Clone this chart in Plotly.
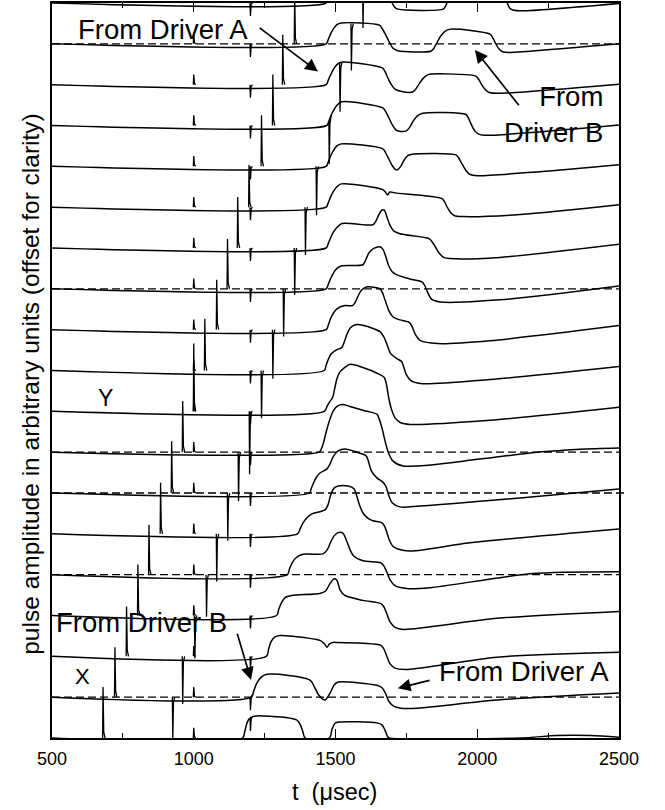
import numpy as np
import plotly.graph_objects as go

T_MIN, T_MAX = 500, 2500
STEP = 10  # vertical offset between consecutive records

# Pulse envelopes, bottom record (00) to top record (18): time (usec) and amplitude
tr00_t = [500, 1172, 1180, 1188, 1197, 1210, 1244, 1364, 1376, 1385, 1393, 1478, 1488, 1498, 1512, 1646, 1664, 1674, 1684, 1690, 2150, 2280, 2400, 2500]
tr00_a = [0, 0, 1.6, 3.7, 4.8, 5.3, 5.4, 4.4, 3.2, 1.5, 0, 0, 2.2, 3.6, 3.9, 3.7, 3.2, 2.0, 0.3, 0, 0, 0.6, 0.6, 0.2]

tr01_t = [500, 1203, 1212, 1222, 1236, 1258, 1410, 1425, 1440, 1463, 1481, 1495, 1510, 1646, 1664, 1676, 1688, 1705, 1730, 1790, 2070, 2500]
tr01_a = [0, 0, 1.6, 3.4, 4.8, 5.6, 4.2, 2.6, 0.6, -0.7, 1.0, 3.0, 3.7, 2.9, 2.3, 1.0, -1.0, -2.2, -2.7, -2.7, -0.7, 1.0]

tr02_t = [500, 1256, 1264, 1272, 1285, 1304, 1350, 1445, 1462, 1470, 1478, 1490, 1505, 1597, 1660, 1670, 1680, 1692, 1710, 1755, 2070, 2500]
tr02_a = [0, 0, 1.8, 3.5, 4.7, 5.1, 4.9, 3.9, 3.0, 2.2, 3.0, 3.4, 3.4, 3.2, 2.7, 1.9, 0.2, -1.8, -2.9, -3.2, -0.2, 1.0]

tr03_t = [500, 1292, 1300, 1310, 1322, 1346, 1445, 1465, 1478, 1490, 1498, 1506, 1516, 1533, 1597, 1660, 1670, 1680, 1692, 1710, 1740, 2070, 2500]
tr03_a = [0, 0, 1.6, 3.2, 4.4, 4.9, 5.4, 6.0, 7.5, 8.7, 9.0, 8.5, 6.3, 4.9, 3.7, 2.9, 2.2, 0.6, -1.5, -2.9, -3.4, -0.7, 1.0]

tr04_t = [500, 1330, 1338, 1348, 1362, 1385, 1456, 1470, 1482, 1495, 1509, 1526, 1538, 1552, 1565, 1597, 1660, 1670, 1680, 1692, 1710, 1752, 1833, 2186, 2500]
tr04_a = [0, 0, 1.5, 3.0, 4.2, 5.0, 5.1, 6.0, 7.8, 9.5, 10.3, 10.2, 8.5, 6.0, 4.5, 3.4, 2.9, 2.2, 0.8, -1.2, -2.7, -3.4, -3.2, 0.2, 0.7]

tr05_t = [500, 1366, 1375, 1385, 1400, 1417, 1445, 1465, 1474, 1483, 1495, 1510, 1544, 1566, 1574, 1584, 1597, 1615, 1632, 1664, 1672, 1680, 1690, 1705, 1760, 1974, 2500]
tr05_a = [0, 0, 1.2, 2.6, 4.0, 4.9, 5.4, 6.0, 7.2, 9.5, 11.2, 11.7, 11.7, 11.0, 9.5, 7.2, 5.1, 3.8, 3.2, 2.7, 2.0, 0.6, -1.5, -3.2, -4.2, -2.2, 1.2]

tr06_t = [500, 1408, 1414, 1422, 1432, 1445, 1470, 1480, 1492, 1509, 1533, 1576, 1608, 1616, 1626, 1646, 1668, 1678, 1688, 1700, 1727, 1798, 2151, 2500]
tr06_a = [0, 0, 1.0, 2.4, 3.8, 4.9, 5.9, 7.0, 8.9, 10.3, 10.8, 10.0, 9.1, 7.8, 5.5, 3.7, 2.6, 1.6, -0.6, -2.4, -3.4, -3.2, -1.2, 1.0]

tr07_t = [500, 1442, 1450, 1458, 1468, 1480, 1492, 1505, 1523, 1551, 1611, 1646, 1655, 1665, 1676, 1686, 1703, 1738, 2010, 2186, 2362, 2500]
tr07_a = [0, 0, 0.8, 2.4, 5.2, 8.0, 10.1, 11.2, 11.7, 11.2, 10.0, 9.3, 8.0, 5.6, 2.4, 0.0, -2.2, -3.4, -1.7, -0.2, 0.7, 1.0]

tr08_t = [500, 1460, 1470, 1480, 1490, 1497, 1505, 1515, 1530, 1551, 1586, 1657, 1672, 1680, 1688, 1697, 1710, 1730, 1763, 2045, 2500]
tr08_a = [0, 0, 1.2, 2.4, 3.4, 5.5, 8.0, 9.6, 10.6, 11.5, 11.0, 9.0, 8.3, 6.5, 3.2, 0.6, -1.6, -2.8, -3.2, -2.2, 1.0]

tr09_t = [500, 1460, 1467, 1475, 1485, 1505, 1522, 1530, 1540, 1552, 1570, 1600, 1657, 1670, 1682, 1694, 1717, 1733, 1741, 1750, 1765, 1800, 2045, 2500]
tr09_a = [0, 0, 1.3, 2.8, 4.1, 5.1, 5.6, 6.8, 8.8, 10.4, 11.2, 11.0, 9.5, 8.3, 6.3, 4.2, 2.9, 2.2, 0.8, -1.0, -2.4, -3.2, -2.2, 1.0]

tr10_t = [500, 1467, 1474, 1482, 1492, 1505, 1533, 1560, 1568, 1578, 1592, 1612, 1657, 1666, 1676, 1690, 1703, 1727, 1760, 1770, 1782, 1800, 1860, 2045, 2500]
tr10_a = [0, 0, 1.0, 2.6, 4.0, 5.1, 5.9, 5.9, 6.5, 8.0, 9.7, 10.5, 10.0, 9.0, 7.0, 4.4, 3.1, 2.4, 1.8, 0.8, -1.2, -2.7, -3.4, -2.7, 1.0]

tr11_t = [500, 1467, 1474, 1482, 1492, 1505, 1520, 1597, 1606, 1618, 1635, 1657, 1668, 1677, 1688, 1700, 1717, 1763, 1805, 1815, 1826, 1840, 1868, 2080, 2500]
tr11_a = [0, 0, 1.0, 2.4, 3.8, 5.0, 5.6, 5.9, 7.0, 8.8, 9.9, 10.3, 9.6, 8.0, 5.6, 4.2, 3.4, 2.4, 1.7, 0.8, -1.0, -2.6, -3.2, -2.7, 0.7]

tr12_t = [500, 1467, 1474, 1482, 1492, 1505, 1523, 1632, 1641, 1652, 1664, 1672, 1682, 1692, 1705, 1727, 1830, 1840, 1852, 1866, 1882, 1904, 2080, 2500]
tr12_a = [0, 0, 1.0, 2.4, 3.8, 5.0, 6.0, 5.7, 6.4, 8.0, 9.3, 9.3, 7.5, 5.6, 4.2, 3.5, 2.3, 1.6, 0.3, -1.3, -2.3, -2.6, -2.3, 0.9]

tr13_t = [500, 1467, 1474, 1482, 1492, 1505, 1520, 1667, 1677, 1684, 1692, 1710, 1876, 1884, 1894, 1906, 1920, 1950, 2151, 2500]
tr13_a = [0, 0, 1.0, 2.4, 3.8, 5.0, 5.7, 4.3, 3.6, 3.0, 3.7, 3.5, 2.1, 1.4, 0.0, -1.3, -2.1, -2.3, -1.8, 0.6]

tr14_t = [500, 1467, 1474, 1482, 1492, 1505, 1520, 1667, 1676, 1688, 1700, 1712, 1720, 1730, 1742, 1755, 1775, 1925, 1934, 1946, 1960, 1975, 2000, 2221, 2500]
tr14_a = [0, 0, 1.0, 2.4, 3.8, 5.0, 5.5, 4.3, 3.4, 1.8, 0.2, -0.8, -0.8, 0.0, 1.5, 2.6, 3.0, 2.8, 2.1, 0.6, -1.0, -2.0, -2.3, -1.3, 0.4]

tr15_t = [500, 1469, 1476, 1484, 1494, 1506, 1522, 1667, 1676, 1688, 1700, 1712, 1725, 1750, 1762, 1775, 1790, 1808, 1960, 1968, 1978, 1990, 2005, 2025, 2500]
tr15_a = [0, 0, 1.0, 2.4, 3.8, 5.0, 5.8, 4.3, 3.5, 1.9, 0.2, -1.0, -1.4, -1.3, -0.4, 1.2, 2.4, 3.0, 2.7, 1.9, 0.4, -1.2, -2.1, -2.4, 0.1]

tr16_t = [500, 1467, 1474, 1482, 1492, 1505, 1520, 1665, 1674, 1685, 1697, 1710, 1730, 1772, 1782, 1795, 1810, 1825, 1840, 1995, 2004, 2015, 2028, 2042, 2080, 2500]
tr16_a = [0, 0, 1.0, 2.3, 3.7, 4.9, 5.5, 4.1, 3.3, 1.6, 0.0, -1.1, -1.6, -1.8, -1.2, 0.2, 1.6, 2.4, 2.6, 2.1, 1.4, 0.1, -1.2, -1.9, -2.1, 0.1]

tr17_t = [500, 1467, 1474, 1482, 1492, 1505, 1520, 1655, 1665, 1677, 1690, 1702, 1720, 1836, 1846, 1858, 1870, 1885, 1905, 2045, 2054, 2064, 2076, 2092, 2186, 2500]
tr17_a = [0, 0, 1.0, 2.3, 3.6, 4.7, 5.1, 4.6, 3.7, 2.2, 0.4, -1.0, -1.7, -1.8, -1.2, 0.3, 1.8, 3.0, 3.6, 2.4, 1.6, 0.2, -1.2, -2.0, -1.8, 0.0]

tr18_t = [500, 1467, 1474, 1482, 1492, 1505, 1520, 1680, 1688, 1695, 1700, 1708, 1720, 1880, 1887, 1893, 1900, 1915, 2090, 2100, 2106, 2114, 2125, 2160, 2500]
tr18_a = [0, 0, 1.0, 2.3, 3.6, 4.7, 5.1, 4.6, 2.6, 1.0, 0.0, -1.0, -1.5, -1.5, -0.9, 0.0, 1.5, 3.2, 2.4, 1.0, 0.0, -1.2, -1.7, -1.9, -0.1]

# Large transient spikes in each record, bottom to top (time usec, height)
up_spike_t = [680, 722, 763, 803, 842, 883, 922, 961, 1000, 1039, 1081, 1119, 1155, 1195, 1239, 1279, 1314, 1356, 1395]
up_spike_a = [12.5, 12.2, 12.2, 12.5, 12.2, 12.5, 12.7, 12.5, 16.6, 12.7, 12.2, 12.2, 12.5, 10.3, 12.5, 12.5, 12.2, 12.2, 12.2]
down_spike_t = [885, 926, 961, 1004, 1045, 1081, 1120, 1158, 1197, 1239, 1279, 1317, 1356, 1394, 1433, 1478, 1516, 1556, 1597]
down_spike_a = [11.0, 10.3, 11.7, 10.5, 10.3, 11.7, 11.7, 12.0, 15.4, 11.7, 12.0, 11.7, 11.5, 11.7, 12.0, 10.8, 12.0, 11.5, 11.0]

# Marker spikes common to every record (time usec, signed height)
ref_spike_t = [1000, 1200]
ref_spike_a = [2.5, -3.2]

# Records that carry a dashed zero line
dashed_records = [1, 4, 6, 7, 11, 17]

tick_vals = [500, 1000, 1500, 2000, 2500]
tick_text = ["500", "1000", "1500", "2000", "2500"]
minor_tick_vals = [750, 1250, 1750, 2250]

env_t = [tr00_t, tr01_t, tr02_t, tr03_t, tr04_t, tr05_t, tr06_t, tr07_t, tr08_t, tr09_t,
         tr10_t, tr11_t, tr12_t, tr13_t, tr14_t, tr15_t, tr16_t, tr17_t, tr18_t]
env_a = [tr00_a, tr01_a, tr02_a, tr03_a, tr04_a, tr05_a, tr06_a, tr07_a, tr08_a, tr09_a,
         tr10_a, tr11_a, tr12_a, tr13_a, tr14_a, tr15_a, tr16_a, tr17_a, tr18_a]

FONT = "Liberation Sans, Arial, Helvetica, sans-serif"
INK = "#000000"
LINE_W = 1.5

fig = go.Figure()

for k, (tt, aa) in enumerate(zip(env_t, env_a)):
    off = k * STEP
    fig.add_trace(go.Scatter(
        x=tt, y=[a + off for a in aa], mode="lines",
        line=dict(color=INK, width=LINE_W, shape="spline", smoothing=0.8),
        hoverinfo="skip", showlegend=False))

    # narrow spikes riding on the envelope
    def base(t):
        return float(np.interp(t, tt, aa)) + off

    events = [(up_spike_t[k], up_spike_a[k]), (down_spike_t[k], -down_spike_a[k])]
    events += list(zip(ref_spike_t, ref_spike_a))
    xs, ys = [], []
    for ts, amp in events:
        xs += [ts - 1.5, ts, ts + 2.5, ts + 7, None]
        ys += [base(ts - 1.5), base(ts) + amp, base(ts + 2.5) + 0.12 * amp, base(ts + 7), None]
    fig.add_trace(go.Scatter(
        x=xs, y=ys, mode="lines", line=dict(color=INK, width=1.3),
        hoverinfo="skip", showlegend=False))

shapes = []
for k in dashed_records:
    if k == 6:
        shapes.append(dict(type="line", xref="paper", yref="y", x0=0, x1=1.014,
                           y0=k * STEP, y1=k * STEP,
                           line=dict(color=INK, width=1.4, dash="8px,4px")))
    else:
        shapes.append(dict(type="line", xref="x", yref="y", x0=T_MIN, x1=T_MAX,
                           y0=k * STEP, y1=k * STEP,
                           line=dict(color=INK, width=1.4, dash="8px,4px")))

LABEL = dict(family=FONT, size=27.5, color=INK)
ARROW = dict(xref="x", yref="y", axref="x", ayref="y", text="", showarrow=True,
             arrowhead=2, arrowsize=1.5, arrowwidth=1.7, arrowcolor=INK)
annotations = [
    dict(x=892, y=173.4, xref="x", yref="y", text="From Driver A", showarrow=False,
         xanchor="center", yanchor="middle", font=LABEL),
    dict(x=2452, y=152.6, xref="x", yref="y", text="From<br>Driver B", showarrow=False,
         xanchor="right", yanchor="middle", align="right", font=LABEL),
    dict(x=817, y=28.2, xref="x", yref="y", text="From Driver B", showarrow=False,
         xanchor="center", yanchor="middle", font=LABEL),
    dict(x=2165, y=16.4, xref="x", yref="y", text="From Driver A", showarrow=False,
         xanchor="center", yanchor="middle", font=LABEL),
    dict(x=687, y=83.3, xref="x", yref="y", text="Y", showarrow=False,
         xanchor="center", yanchor="middle", font=dict(family=FONT, size=23, color=INK)),
    dict(x=606, y=15.1, xref="x", yref="y", text="X", showarrow=False,
         xanchor="center", yanchor="middle", font=dict(family=FONT, size=22, color=INK)),
    # arrows: head at (x, y), tail at (ax, ay)
    dict(x=1438, y=163.2, ax=1227, ay=174.2, **ARROW),
    dict(x=1992, y=168.5, ax=2151, ay=154.6, **ARROW),
    dict(x=1202, y=14.2, ax=1152, ay=25.9, **ARROW),
    dict(x=1720, y=12.2, ax=1837, ay=14.2, **ARROW),
    # axis titles
    dict(x=0.498, y=-0.073, xref="paper", yref="paper", text="t  (\u03bcsec)", showarrow=False,
         xanchor="center", yanchor="middle", font=dict(family=FONT, size=23.5, color=INK)),
    dict(x=-0.037, y=0.482, xref="paper", yref="paper",
         text="pulse amplitude in arbitrary units (offset for clarity)", showarrow=False,
         textangle=-90, xanchor="center", yanchor="middle",
         font=dict(family=FONT, size=24.5, color=INK)),
]

fig.update_layout(
    width=665, height=810,
    margin=dict(l=52, r=46, t=1, b=72),
    paper_bgcolor="white", plot_bgcolor="white",
    font=dict(family=FONT, color=INK),
    shapes=shapes, annotations=annotations,
    showlegend=False,
    xaxis=dict(
        range=[T_MIN, T_MAX], tickvals=tick_vals, ticktext=tick_text,
        ticks="inside", ticklen=9, tickwidth=1.4, tickcolor=INK,
        showline=True, linewidth=1.8, linecolor=INK, mirror="ticks",
        showgrid=False, zeroline=False, ticklabelstandoff=3,
        tickfont=dict(family=FONT, size=18, color=INK),
        minor=dict(tickvals=minor_tick_vals, ticks="inside", ticklen=5,
                   tickwidth=1.3, tickcolor=INK, showgrid=False),
    ),
    yaxis=dict(
        range=[0, 18 * STEP], showticklabels=False, ticks="",
        showline=True, linewidth=1.8, linecolor=INK, mirror=True,
        showgrid=False, zeroline=False,
    ),
)

fig.write_html("out.html")
